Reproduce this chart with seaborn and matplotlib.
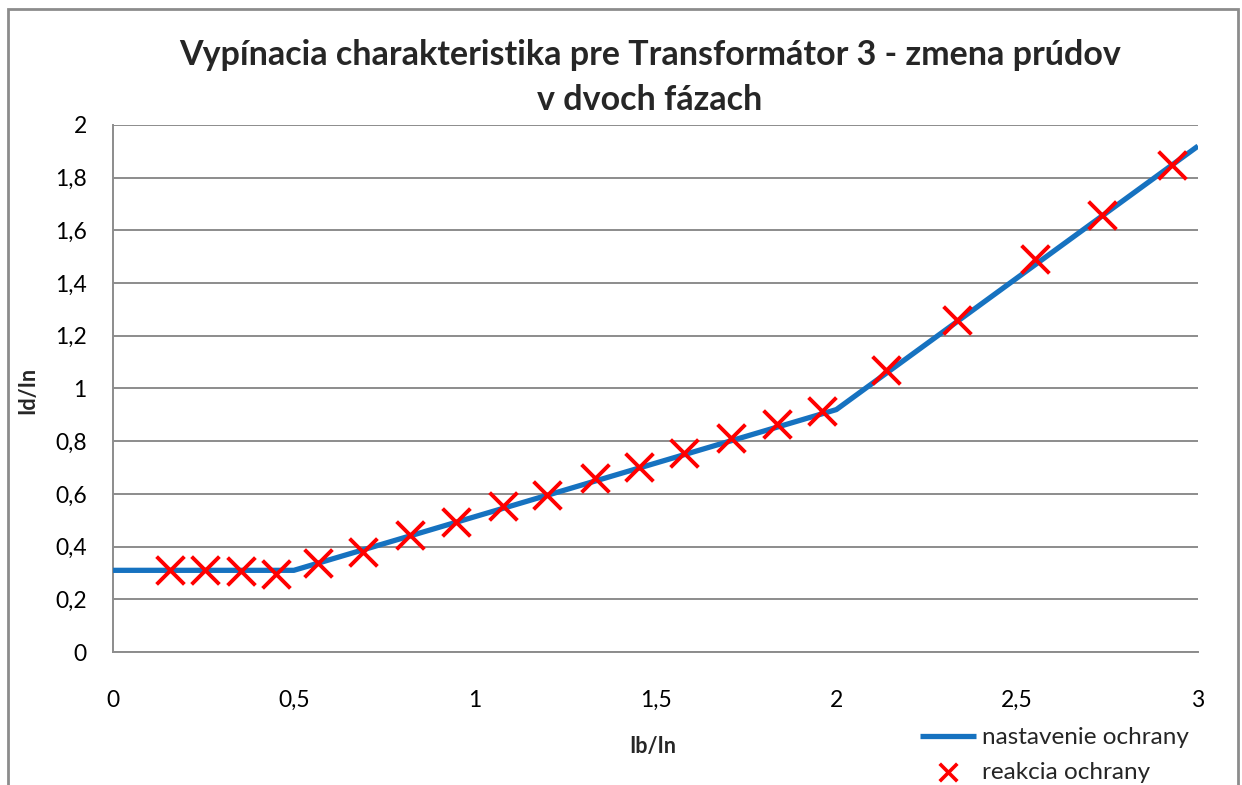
import matplotlib
matplotlib.use("Agg")
import matplotlib.pyplot as plt
import matplotlib.patches as mpatches
from matplotlib.ticker import FuncFormatter
import seaborn as sns
import pandas as pd

# Protection setting (piecewise characteristic)
setting_x = [0.0, 0.5, 2.0, 3.0]
setting_y = [0.31, 0.31, 0.92, 1.92]

# Measured protection response
response_x = [0.158, 0.254, 0.354, 0.451, 0.567, 0.691, 0.821, 0.948, 1.078,
              1.200, 1.333, 1.454, 1.579, 1.709, 1.836, 1.960, 2.137, 2.333,
              2.549, 2.734, 2.928]
response_y = [0.311, 0.311, 0.307, 0.297, 0.338, 0.380, 0.444, 0.493, 0.554,
              0.596, 0.660, 0.702, 0.755, 0.812, 0.865, 0.915, 1.070, 1.260,
              1.491, 1.658, 1.848]

x_ticks = [0, 0.5, 1, 1.5, 2, 2.5, 3]
y_ticks = [0, 0.2, 0.4, 0.6, 0.8, 1.0, 1.2, 1.4, 1.6, 1.8, 2.0]

title_line1 = "Vypínacia charakteristika pre Transformátor 3 - zmena prúdov"
title_line2 = "v dvoch fázach"
label_setting = "nastavenie ochrany"
label_response = "reakcia ochrany"

sns.set_theme(style="white")
plt.rcParams["font.family"] = ["Lato", "DejaVu Sans"]

fig = plt.figure(figsize=(12.42, 7.85), dpi=100)
ax = fig.add_axes([0.091, 0.1694, 0.8736, 0.6714])

df_set = pd.DataFrame({"x": setting_x, "y": setting_y})
df_resp = pd.DataFrame({"x": response_x, "y": response_y})

sns.lineplot(data=df_set, x="x", y="y", ax=ax, color="#1672c0", linewidth=3.8,
             label=label_setting, zorder=3, solid_capstyle="butt")
sns.scatterplot(data=df_resp, x="x", y="y", ax=ax, marker="x", color="#ff0000",
                s=400, linewidth=2.8, label=label_response, zorder=4)

ax.set_xlim(0, 3)
ax.set_ylim(0, 2)
ax.set_xticks(x_ticks)
ax.set_yticks(y_ticks)
fmt = FuncFormatter(lambda v, p: ("%g" % v).replace(".", ","))
ax.xaxis.set_major_formatter(fmt)
ax.yaxis.set_major_formatter(fmt)
ax.tick_params(axis="both", length=0, labelsize=16.5, colors="black")
ax.tick_params(axis="x", pad=27)
ax.tick_params(axis="y", pad=19)

ax.grid(axis="y", color="#8c8c8c", linewidth=1.4)
ax.grid(axis="x", visible=False)
ax.set_axisbelow(True)
for side in ["top", "right"]:
    ax.spines[side].set_visible(False)
for side in ["left", "bottom"]:
    ax.spines[side].set_color("#8c8c8c")
    ax.spines[side].set_linewidth(1.4)

ax.set_xlabel("")
ax.set_ylabel("")
fig.text(653 / 1242, 1 - 747 / 785, "Ib/In", ha="center", va="center",
         fontsize=15.5, fontweight="bold")
fig.text(28 / 1242, 1 - 390 / 785, "Id/In", ha="center", va="center",
         fontsize=15.5, fontweight="bold", rotation=90)
fig.text(650 / 1242, 1 - 55 / 785, title_line1, ha="center", va="center",
         fontsize=24.5, fontweight="bold")
fig.text(650 / 1242, 1 - 100 / 785, title_line2, ha="center", va="center",
         fontsize=24.5, fontweight="bold")

handles, labels = ax.get_legend_handles_labels()
leg = ax.legend(handles, labels, loc="center left", frameon=False, fontsize=17.5,
                bbox_to_anchor=(908 / 1242, 1 - 755 / 785), bbox_transform=fig.transFigure,
                handlelength=2.3, handletextpad=0.25, labelspacing=0.55, borderpad=0)
for h in leg.legend_handles:
    if hasattr(h, "set_sizes"):
        h.set_sizes([160])
        h.set_linewidth(2.6)

# Chart frame
frame = mpatches.Rectangle((8 / 1242, -0.05), (1238 - 8) / 1242, 1 - 9 / 785 + 0.05,
                           transform=fig.transFigure, fill=False,
                           edgecolor="#8c8c8c", linewidth=2, clip_on=False)
fig.patches.append(frame)

fig.savefig("out.png", dpi=100)
